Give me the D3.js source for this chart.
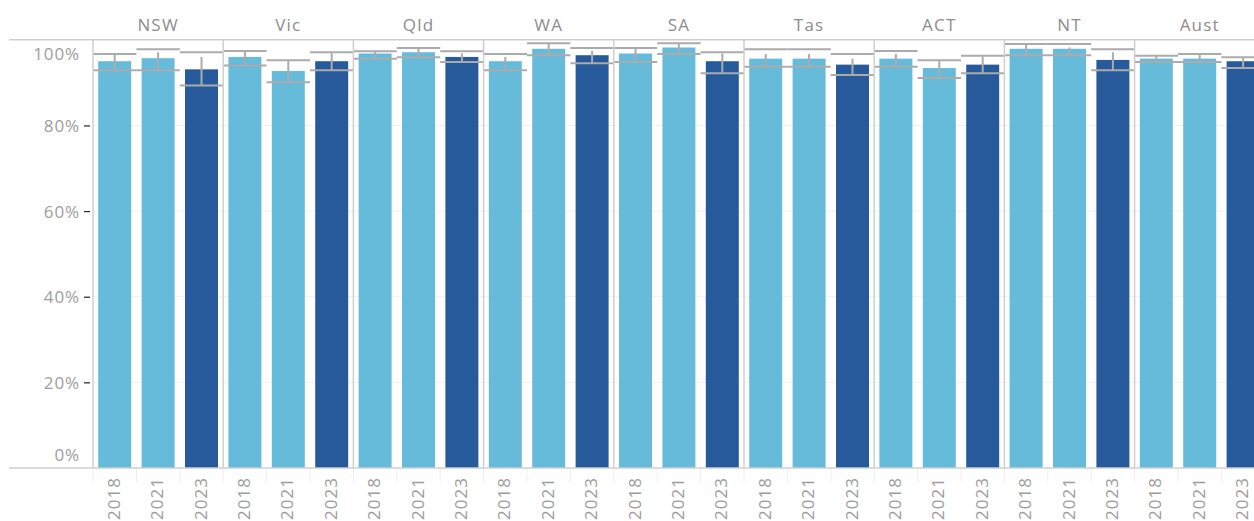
<!DOCTYPE html>
<html>
<head>
<meta charset="utf-8">
<script src="https://cdn.jsdelivr.net/npm/d3@7"></script>
<style>
  html, body { margin: 0; padding: 0; background: #fff; }
  svg { display: block; }
  text { font-family: "Open Sans", "Noto Sans", sans-serif; }
</style>
</head>
<body>
<svg id="chart" width="1254" height="521"></svg>
<script>
const states = ["NSW", "Vic", "Qld", "WA", "SA", "Tas", "ACT", "NT", "Aust"];
const years = ["2018", "2021", "2023"];
const yTicks = [0, 20, 40, 60, 80, 100];

const value2018 = [95.0, 96.0, 96.8, 95.0, 96.8, 95.6, 95.6, 97.9, 95.6];
const value2021 = [95.7, 92.7, 97.1, 97.9, 98.2, 95.6, 93.4, 97.9, 95.6];
const value2023 = [93.1, 95.0, 96.0, 96.4, 95.0, 94.2, 94.2, 95.3, 95.0];

const upper2018 = [96.7, 97.4, 97.3, 96.7, 98.1, 97.8, 97.4, 99.0, 96.3];
const upper2021 = [97.8, 95.2, 98.1, 99.2, 99.2, 97.8, 95.2, 99.0, 96.7];
const upper2023 = [97.1, 97.1, 97.3, 98.1, 97.1, 96.7, 96.3, 97.8, 95.9];

const whiskerTop2018 = [96.7, 97.3, 97.3, 96.0, 97.9, 96.7, 96.7, 98.9, 96.2];
const whiskerTop2021 = [97.1, 95.1, 97.9, 99.2, 99.0, 96.7, 95.1, 98.2, 96.6];
const whiskerTop2023 = [96.0, 96.9, 96.8, 97.4, 96.8, 95.6, 96.1, 97.1, 95.9];

const lower2018 = [92.9, 94.0, 95.6, 92.9, 94.8, 93.7, 93.7, 96.4, 94.8];
const lower2021 = [92.9, 90.1, 95.9, 96.4, 96.7, 93.7, 91.1, 96.4, 94.8];
const lower2023 = [89.3, 92.9, 94.8, 94.5, 92.2, 91.8, 92.2, 92.9, 93.4];

const valuesByYear = { "2018": value2018, "2021": value2021, "2023": value2023 };
const upperByYear = { "2018": upper2018, "2021": upper2021, "2023": upper2023 };
const whiskerByYear = { "2018": whiskerTop2018, "2021": whiskerTop2021, "2023": whiskerTop2023 };
const lowerByYear = { "2018": lower2018, "2021": lower2021, "2023": lower2023 };

const rows = [];
states.forEach((s, i) => {
  years.forEach(yr => {
    rows.push({ state: s, year: yr, value: valuesByYear[yr][i],
      upper: upperByYear[yr][i], whisker: whiskerByYear[yr][i], lower: lowerByYear[yr][i] });
  });
});

const svg = d3.select("#chart");
const W = 1254, H = 521;
const leftX = 93, panelW = 130.2;
const topY = 39.8, bottomY = 468;

const x0 = d3.scaleBand().domain(states).range([leftX, leftX + panelW * states.length]).padding(0);
const x1 = d3.scaleBand().domain(years).range([0, panelW]).paddingInner(0.24).paddingOuter(0.12);
const cell = d3.scaleBand().domain(years).range([0, panelW]).padding(0);
const y = d3.scaleLinear().domain([0, 100]).range([bottomY, topY]);

const colorMap = { "2018": "#66bbdb", "2021": "#66bbdb", "2023": "#265a9a" };
const gray = "#ababab";

// gridlines
svg.append("g").selectAll("line").data([20, 40, 60, 80]).join("line")
  .attr("x1", leftX).attr("x2", W)
  .attr("y1", d => y(d)).attr("y2", d => y(d))
  .attr("stroke", "#f0f0f0").attr("stroke-width", 1);

// bars
svg.append("g").selectAll("rect").data(rows).join("rect")
  .attr("x", d => x0(d.state) + x1(d.year))
  .attr("width", x1.bandwidth())
  .attr("y", d => y(d.value))
  .attr("height", d => y(0) - y(d.value))
  .attr("fill", d => colorMap[d.year]);

// reference caps across each cell
const caps = svg.append("g").attr("stroke", gray).attr("stroke-width", 2);
caps.selectAll("line.up").data(rows).join("line").attr("class", "up")
  .attr("x1", d => x0(d.state) + cell(d.year)).attr("x2", d => x0(d.state) + cell(d.year) + cell.bandwidth())
  .attr("y1", d => y(d.upper)).attr("y2", d => y(d.upper));
caps.selectAll("line.lo").data(rows).join("line").attr("class", "lo")
  .attr("x1", d => x0(d.state) + cell(d.year)).attr("x2", d => x0(d.state) + cell(d.year) + cell.bandwidth())
  .attr("y1", d => y(d.lower)).attr("y2", d => y(d.lower));
// whiskers
caps.selectAll("line.wh").data(rows).join("line").attr("class", "wh")
  .attr("x1", d => x0(d.state) + x1(d.year) + x1.bandwidth() / 2)
  .attr("x2", d => x0(d.state) + x1(d.year) + x1.bandwidth() / 2)
  .attr("y1", d => y(d.whisker)).attr("y2", d => y(d.lower));

// panel borders
svg.append("g").selectAll("line").data(states).join("line")
  .attr("x1", d => x0(d)).attr("x2", d => x0(d))
  .attr("y1", topY).attr("y2", bottomY)
  .attr("stroke", "#cfcfcf").attr("stroke-width", 1.5);

// cell separators below axis
svg.append("g").selectAll("line").data(rows).join("line")
  .attr("x1", d => x0(d.state) + cell(d.year)).attr("x2", d => x0(d.state) + cell(d.year))
  .attr("y1", bottomY).attr("y2", bottomY + 14)
  .attr("stroke", "#eeeeee").attr("stroke-width", 1);

// top and bottom lines
svg.append("line").attr("x1", 9).attr("x2", W).attr("y1", topY).attr("y2", topY)
  .attr("stroke", "#cfcfcf").attr("stroke-width", 1.5);
svg.append("line").attr("x1", 9).attr("x2", W).attr("y1", bottomY).attr("y2", bottomY)
  .attr("stroke", "#cfcfcf").attr("stroke-width", 1.5);

// y axis
const yAxis = d3.axisLeft(y).tickValues(yTicks).tickFormat(d => d + "%").tickSize(6).tickPadding(4);
const ga = svg.append("g").attr("transform", `translate(${leftX - 3},0)`).call(yAxis);
ga.select(".domain").remove();
ga.selectAll(".tick line").attr("stroke", "#222").attr("stroke-width", 1.2)
  .attr("opacity", d => (d === 0 || d === 100) ? 0 : 1);
ga.selectAll(".tick text")
  .attr("fill", "#9d9d9d").style("font-size", "17px").style("letter-spacing", "0.9px")
  .style("font-family", "'Open Sans', sans-serif")
  .attr("dy", d => d === 100 ? "1.15em" : d === 0 ? "-0.45em" : "0.35em");

// header labels
svg.append("g").selectAll("text").data(states).join("text")
  .attr("x", d => x0(d) + x0.bandwidth() / 2)
  .attr("y", 31)
  .attr("text-anchor", "middle")
  .attr("fill", "#8d8d8d")
  .style("font-size", "17px").style("letter-spacing", "1.2px")
  .text(d => d);

// year labels
svg.append("g").selectAll("text").data(rows).join("text")
  .attr("transform", d => `translate(${x0(d.state) + cell(d.year) + cell.bandwidth() / 2 - 1},477) rotate(-90)`)
  .attr("text-anchor", "end")
  .attr("dy", "0.36em")
  .attr("fill", "#9d9d9d")
  .style("font-size", "17px").style("letter-spacing", "1px")
  .text(d => d.year);
</script>
</body>
</html>
